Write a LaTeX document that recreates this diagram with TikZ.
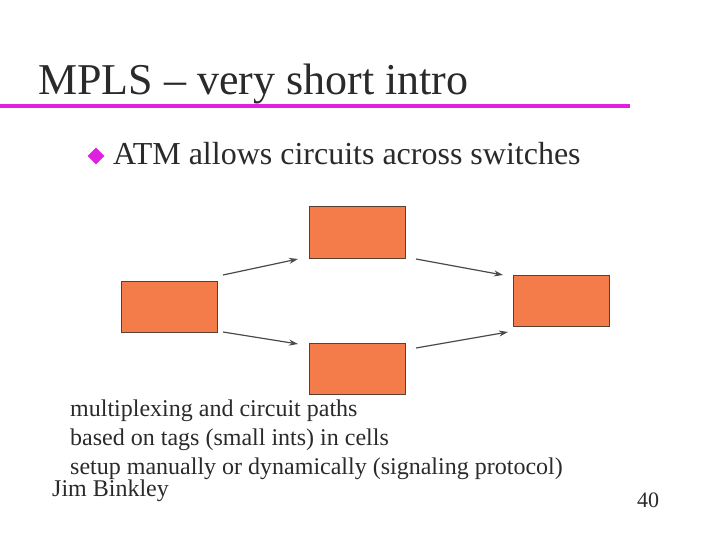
\documentclass[tikz,border=0pt]{standalone}
\usepackage{fontspec}
\setmainfont{Liberation Serif}
\usetikzlibrary{shapes.geometric,arrows.meta}
\definecolor{boxfill}{HTML}{F47C4B}
\definecolor{boxline}{HTML}{5A4030}
\definecolor{mag}{HTML}{E020E0}
\definecolor{txt}{HTML}{2A2A2A}
\tikzset{
  sw/.style={draw=boxline,fill=boxfill,line width=1pt,minimum width=96pt,minimum height=51pt,inner sep=0pt},
  arr/.style={draw=txt!85,line width=1.2pt,-{Stealth[length=9pt,width=6pt]}},
  lbl/.style={anchor=base west,inner sep=0pt,text=txt},
  small/.style={lbl,font=\fontsize{24}{28}\selectfont}
}
\begin{document}
\begin{tikzpicture}[x=1pt,y=-1pt]
\useasboundingbox (0,0) rectangle (720,540);
\node[lbl,font=\fontsize{44}{50}\selectfont] (title) at (38,95) {MPLS – very short intro};
\draw[mag,line width=4pt] (0,106) -- (630,106);
\node[diamond,fill=mag,minimum width=17pt,minimum height=17pt,inner sep=0pt] (bul) at (96,156) {};
\node[lbl,font=\fontsize{32}{38}\selectfont] (atm) at (113,165) {ATM allows circuits across switches};
\node[sw] (l) at (169.5,306.5) {};
\node[sw] (t) at (357,232.5) {};
\node[sw] (b) at (357,368.5) {};
\node[sw] (r) at (561,300.5) {};
\coordinate (a1s) at (223,275); \coordinate (a1e) at (298,259);
\coordinate (a2s) at (223,332); \coordinate (a2e) at (298,344);
\coordinate (a3s) at (416,259); \coordinate (a3e) at (503,275);
\coordinate (a4s) at (416,348); \coordinate (a4e) at (508,332);
\draw[arr] (a1s) -- (a1e);
\draw[arr] (a2s) -- (a2e);
\draw[arr] (a3s) -- (a3e);
\draw[arr] (a4s) -- (a4e);
\node[small] (t1) at (70,416) {multiplexing and circuit paths};
\node[small] (t2) at (70,445) {based on tags (small ints) in cells};
\node[small] (t3) at (70,474) {setup manually or dynamically (signaling protocol)};
\node[small] (jim) at (52,496) {Jim Binkley};
\node[lbl,font=\fontsize{22}{26}\selectfont] (pg) at (637,507) {40};
\end{tikzpicture}
\end{document}
